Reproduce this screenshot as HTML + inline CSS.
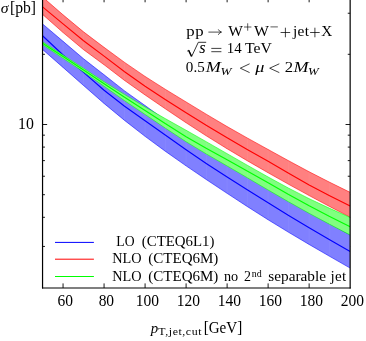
<!DOCTYPE html>
<html lang="en"><head><meta charset="utf-8"><title>plot</title>
<style>html,body{margin:0;padding:0;background:#fff;}body{width:366px;height:341px;overflow:hidden;}svg{display:block;}</style>
</head><body>
<svg width="366" height="341" viewBox="0 0 366 341">
<rect width="366" height="341" fill="#fff"/>
<defs><clipPath id="c"><rect x="42.55" y="-5" width="307.60" height="293.00"/></clipPath></defs>
<g stroke="#000" stroke-width="0.9" fill="none">
<line x1="63.06" y1="288.00" x2="63.06" y2="283.40"/>
<line x1="63.06" y1="-2.30" x2="63.06" y2="2.30"/>
<line x1="104.07" y1="288.00" x2="104.07" y2="283.40"/>
<line x1="104.07" y1="-2.30" x2="104.07" y2="2.30"/>
<line x1="145.08" y1="288.00" x2="145.08" y2="283.40"/>
<line x1="145.08" y1="-2.30" x2="145.08" y2="2.30"/>
<line x1="186.10" y1="288.00" x2="186.10" y2="283.40"/>
<line x1="186.10" y1="-2.30" x2="186.10" y2="2.30"/>
<line x1="227.11" y1="288.00" x2="227.11" y2="283.40"/>
<line x1="227.11" y1="-2.30" x2="227.11" y2="2.30"/>
<line x1="268.12" y1="288.00" x2="268.12" y2="283.40"/>
<line x1="268.12" y1="-2.30" x2="268.12" y2="2.30"/>
<line x1="309.14" y1="288.00" x2="309.14" y2="283.40"/>
<line x1="309.14" y1="-2.30" x2="309.14" y2="2.30"/>
<line x1="42.55" y1="246.44" x2="44.95" y2="246.44"/>
<line x1="350.15" y1="246.44" x2="347.75" y2="246.44"/>
<line x1="42.55" y1="217.30" x2="44.95" y2="217.30"/>
<line x1="350.15" y1="217.30" x2="347.75" y2="217.30"/>
<line x1="42.55" y1="194.70" x2="44.95" y2="194.70"/>
<line x1="350.15" y1="194.70" x2="347.75" y2="194.70"/>
<line x1="42.55" y1="176.24" x2="44.95" y2="176.24"/>
<line x1="350.15" y1="176.24" x2="347.75" y2="176.24"/>
<line x1="42.55" y1="160.62" x2="44.95" y2="160.62"/>
<line x1="350.15" y1="160.62" x2="347.75" y2="160.62"/>
<line x1="42.55" y1="147.10" x2="44.95" y2="147.10"/>
<line x1="350.15" y1="147.10" x2="347.75" y2="147.10"/>
<line x1="42.55" y1="135.17" x2="44.95" y2="135.17"/>
<line x1="350.15" y1="135.17" x2="347.75" y2="135.17"/>
<line x1="42.55" y1="124.50" x2="47.15" y2="124.50"/>
<line x1="350.15" y1="124.50" x2="345.55" y2="124.50"/>
<line x1="42.55" y1="54.30" x2="44.95" y2="54.30"/>
<line x1="350.15" y1="54.30" x2="347.75" y2="54.30"/>
<line x1="42.55" y1="13.24" x2="44.95" y2="13.24"/>
<line x1="350.15" y1="13.24" x2="347.75" y2="13.24"/>
</g>
<g clip-path="url(#c)">
<polygon points="42.55,23.91 63.06,41.33 83.56,58.75 104.07,74.75 124.58,90.88 145.08,105.56 165.59,120.30 186.10,135.07 206.60,149.22 227.11,162.70 247.62,175.62 268.12,188.07 288.63,200.15 309.14,211.95 329.64,223.56 350.15,235.08 350.15,268.09 329.64,256.34 309.14,244.47 288.63,232.32 268.12,219.78 247.62,206.75 227.11,193.37 206.60,179.78 186.10,165.87 165.59,151.46 145.08,136.37 124.58,120.43 104.07,103.46 83.56,85.51 63.06,67.44 42.55,49.49" fill="#8080ff"/>
<line x1="63.06" y1="41.33" x2="63.06" y2="67.44" stroke="#8c8cff" stroke-width="0.5"/><line x1="83.56" y1="58.75" x2="83.56" y2="85.51" stroke="#8c8cff" stroke-width="0.5"/><line x1="104.07" y1="74.75" x2="104.07" y2="103.46" stroke="#8c8cff" stroke-width="0.5"/><line x1="124.58" y1="90.88" x2="124.58" y2="120.43" stroke="#8c8cff" stroke-width="0.5"/><line x1="145.08" y1="105.56" x2="145.08" y2="136.37" stroke="#8c8cff" stroke-width="0.5"/><line x1="165.59" y1="120.30" x2="165.59" y2="151.46" stroke="#8c8cff" stroke-width="0.5"/><line x1="186.10" y1="135.07" x2="186.10" y2="165.87" stroke="#8c8cff" stroke-width="0.5"/><line x1="206.60" y1="149.22" x2="206.60" y2="179.78" stroke="#8c8cff" stroke-width="0.5"/><line x1="227.11" y1="162.70" x2="227.11" y2="193.37" stroke="#8c8cff" stroke-width="0.5"/><line x1="247.62" y1="175.62" x2="247.62" y2="206.75" stroke="#8c8cff" stroke-width="0.5"/><line x1="268.12" y1="188.07" x2="268.12" y2="219.78" stroke="#8c8cff" stroke-width="0.5"/><line x1="288.63" y1="200.15" x2="288.63" y2="232.32" stroke="#8c8cff" stroke-width="0.5"/><line x1="309.14" y1="211.95" x2="309.14" y2="244.47" stroke="#8c8cff" stroke-width="0.5"/><line x1="329.64" y1="223.56" x2="329.64" y2="256.34" stroke="#8c8cff" stroke-width="0.5"/>
<polyline points="42.55,23.91 63.06,41.33 83.56,58.75 104.07,74.75 124.58,90.88 145.08,105.56 165.59,120.30 186.10,135.07 206.60,149.22 227.11,162.70 247.62,175.62 268.12,188.07 288.63,200.15 309.14,211.95 329.64,223.56 350.15,235.08" fill="none" stroke="#0000ff" stroke-width="0.55"/>
<polyline points="42.55,49.49 63.06,67.44 83.56,85.51 104.07,103.46 124.58,120.43 145.08,136.37 165.59,151.46 186.10,165.87 206.60,179.78 227.11,193.37 247.62,206.75 268.12,219.78 288.63,232.32 309.14,244.47 329.64,256.34 350.15,268.09" fill="none" stroke="#0000ff" stroke-width="0.55"/>
<polyline points="42.55,35.72 63.06,55.04 83.56,72.33 104.07,90.26 124.58,106.23 145.08,120.76 165.59,135.32 186.10,149.77 206.60,163.69 227.11,177.07 247.62,190.04 268.12,202.78 288.63,215.42 309.14,227.78 329.64,239.71 350.15,251.39" fill="none" stroke="#0000ff" stroke-width="1.15"/>
<polygon points="42.55,-3.01 63.06,14.83 83.56,31.86 104.07,47.35 124.58,62.40 145.08,76.45 165.59,89.46 186.10,101.96 206.60,114.41 227.11,126.56 247.62,138.16 268.12,149.47 288.63,160.76 309.14,171.77 329.64,182.24 350.15,192.37 350.15,217.28 329.64,206.51 309.14,195.57 288.63,184.32 268.12,172.77 247.62,160.96 227.11,148.77 206.60,136.04 186.10,122.76 165.59,108.99 145.08,94.96 124.58,80.48 104.07,64.75 83.56,49.66 63.06,32.54 42.55,14.38" fill="#ff8080"/>
<line x1="63.06" y1="14.83" x2="63.06" y2="32.54" stroke="#ff8c8c" stroke-width="0.5"/><line x1="83.56" y1="31.86" x2="83.56" y2="49.66" stroke="#ff8c8c" stroke-width="0.5"/><line x1="104.07" y1="47.35" x2="104.07" y2="64.75" stroke="#ff8c8c" stroke-width="0.5"/><line x1="124.58" y1="62.40" x2="124.58" y2="80.48" stroke="#ff8c8c" stroke-width="0.5"/><line x1="145.08" y1="76.45" x2="145.08" y2="94.96" stroke="#ff8c8c" stroke-width="0.5"/><line x1="165.59" y1="89.46" x2="165.59" y2="108.99" stroke="#ff8c8c" stroke-width="0.5"/><line x1="186.10" y1="101.96" x2="186.10" y2="122.76" stroke="#ff8c8c" stroke-width="0.5"/><line x1="206.60" y1="114.41" x2="206.60" y2="136.04" stroke="#ff8c8c" stroke-width="0.5"/><line x1="227.11" y1="126.56" x2="227.11" y2="148.77" stroke="#ff8c8c" stroke-width="0.5"/><line x1="247.62" y1="138.16" x2="247.62" y2="160.96" stroke="#ff8c8c" stroke-width="0.5"/><line x1="268.12" y1="149.47" x2="268.12" y2="172.77" stroke="#ff8c8c" stroke-width="0.5"/><line x1="288.63" y1="160.76" x2="288.63" y2="184.32" stroke="#ff8c8c" stroke-width="0.5"/><line x1="309.14" y1="171.77" x2="309.14" y2="195.57" stroke="#ff8c8c" stroke-width="0.5"/><line x1="329.64" y1="182.24" x2="329.64" y2="206.51" stroke="#ff8c8c" stroke-width="0.5"/>
<polyline points="42.55,-3.01 63.06,14.83 83.56,31.86 104.07,47.35 124.58,62.40 145.08,76.45 165.59,89.46 186.10,101.96 206.60,114.41 227.11,126.56 247.62,138.16 268.12,149.47 288.63,160.76 309.14,171.77 329.64,182.24 350.15,192.37" fill="none" stroke="#ff0000" stroke-width="0.55"/>
<polyline points="42.55,14.38 63.06,32.54 83.56,49.66 104.07,64.75 124.58,80.48 145.08,94.96 165.59,108.99 186.10,122.76 206.60,136.04 227.11,148.77 247.62,160.96 268.12,172.77 288.63,184.32 309.14,195.57 329.64,206.51 350.15,217.28" fill="none" stroke="#ff0000" stroke-width="0.55"/>
<polyline points="42.55,6.92 63.06,23.93 83.56,40.76 104.07,56.15 124.58,71.69 145.08,86.16 165.59,99.71 186.10,112.76 206.60,125.53 227.11,137.86 247.62,149.67 268.12,161.37 288.63,173.32 309.14,184.97 329.64,195.79 350.15,206.07" fill="none" stroke="#ff0000" stroke-width="1.15"/>
<polygon points="42.55,41.85 63.06,55.10 83.56,68.31 104.07,81.74 124.58,94.44 145.08,106.95 165.59,118.78 186.10,130.25 206.60,141.89 227.11,153.66 247.62,165.41 268.12,176.97 288.63,188.16 309.14,198.67 329.64,208.32 350.15,217.47 350.15,234.98 329.64,224.34 309.14,213.37 288.63,201.87 268.12,189.97 247.62,177.93 227.11,165.96 206.60,154.13 186.10,141.76 165.59,128.31 145.08,114.46 124.58,100.71 104.07,86.25 83.56,71.90 63.06,58.30 42.55,44.74" fill="#80ff80"/>
<line x1="63.06" y1="55.10" x2="63.06" y2="58.30" stroke="#8cff8c" stroke-width="0.5"/><line x1="83.56" y1="68.31" x2="83.56" y2="71.90" stroke="#8cff8c" stroke-width="0.5"/><line x1="104.07" y1="81.74" x2="104.07" y2="86.25" stroke="#8cff8c" stroke-width="0.5"/><line x1="124.58" y1="94.44" x2="124.58" y2="100.71" stroke="#8cff8c" stroke-width="0.5"/><line x1="145.08" y1="106.95" x2="145.08" y2="114.46" stroke="#8cff8c" stroke-width="0.5"/><line x1="165.59" y1="118.78" x2="165.59" y2="128.31" stroke="#8cff8c" stroke-width="0.5"/><line x1="186.10" y1="130.25" x2="186.10" y2="141.76" stroke="#8cff8c" stroke-width="0.5"/><line x1="206.60" y1="141.89" x2="206.60" y2="154.13" stroke="#8cff8c" stroke-width="0.5"/><line x1="227.11" y1="153.66" x2="227.11" y2="165.96" stroke="#8cff8c" stroke-width="0.5"/><line x1="247.62" y1="165.41" x2="247.62" y2="177.93" stroke="#8cff8c" stroke-width="0.5"/><line x1="268.12" y1="176.97" x2="268.12" y2="189.97" stroke="#8cff8c" stroke-width="0.5"/><line x1="288.63" y1="188.16" x2="288.63" y2="201.87" stroke="#8cff8c" stroke-width="0.5"/><line x1="309.14" y1="198.67" x2="309.14" y2="213.37" stroke="#8cff8c" stroke-width="0.5"/><line x1="329.64" y1="208.32" x2="329.64" y2="224.34" stroke="#8cff8c" stroke-width="0.5"/>
<polyline points="42.55,41.85 63.06,55.10 83.56,68.31 104.07,81.74 124.58,94.44 145.08,106.95 165.59,118.78 186.10,130.25 206.60,141.89 227.11,153.66 247.62,165.41 268.12,176.97 288.63,188.16 309.14,198.67 329.64,208.32 350.15,217.47" fill="none" stroke="#00ff00" stroke-width="0.55"/>
<polyline points="42.55,44.74 63.06,58.30 83.56,71.90 104.07,86.25 124.58,100.71 145.08,114.46 165.59,128.31 186.10,141.76 206.60,154.13 227.11,165.96 247.62,177.93 268.12,189.97 288.63,201.87 309.14,213.37 329.64,224.34 350.15,234.98" fill="none" stroke="#00ff00" stroke-width="0.55"/>
<polyline points="42.55,43.24 63.06,56.60 83.56,69.91 104.07,83.75 124.58,97.20 145.08,110.45 165.59,123.85 186.10,136.76 206.60,148.58 227.11,159.86 247.62,171.27 268.12,182.87 288.63,194.49 309.14,205.77 329.64,216.42 350.15,226.67" fill="none" stroke="#00ff00" stroke-width="1.15"/>
</g>
<g stroke="#000" stroke-width="1.2" fill="none">
<line x1="42.55" y1="-5" x2="42.55" y2="288.60"/>
<line x1="350.15" y1="-5" x2="350.15" y2="288.60"/>
<line x1="41.95" y1="288.00" x2="350.75" y2="288.00"/>
</g>
<line x1="55.0" y1="242.4" x2="93.9" y2="242.4" stroke="#0000ff" stroke-width="1.0"/>
<line x1="55.0" y1="259.2" x2="93.9" y2="259.2" stroke="#ff0000" stroke-width="1.0"/>
<line x1="55.0" y1="276.5" x2="93.9" y2="276.5" stroke="#00ff00" stroke-width="1.0"/>
<g font-family="'Liberation Serif', serif" fill="#000" style="will-change:transform">
<text transform="translate(65.36,306.30) scale(1.0000,1.0300)" font-size="15.5" text-anchor="middle">60</text>
<text transform="translate(106.37,306.30) scale(1.0000,1.0300)" font-size="15.5" text-anchor="middle">80</text>
<text transform="translate(147.38,306.30) scale(1.0000,1.0300)" font-size="15.5" text-anchor="middle">100</text>
<text transform="translate(188.40,306.30) scale(1.0000,1.0300)" font-size="15.5" text-anchor="middle">120</text>
<text transform="translate(229.41,306.30) scale(1.0000,1.0300)" font-size="15.5" text-anchor="middle">140</text>
<text transform="translate(270.42,306.30) scale(1.0000,1.0300)" font-size="15.5" text-anchor="middle">160</text>
<text transform="translate(311.44,306.30) scale(1.0000,1.0300)" font-size="15.5" text-anchor="middle">180</text>
<text transform="translate(352.45,306.30) scale(1.0000,1.0300)" font-size="15.5" text-anchor="middle">200</text>
<path d="M208.4,32.10 h12.9 m-3.0,-2.7 q0.9,2.1 3.2,2.7 q-2.3,0.6 -3.2,2.7" stroke="#000" stroke-width="0.7" fill="none"/>
<path d="M244.00,27.00 h7.40 M247.70,23.30 v7.40" stroke="#000" stroke-width="0.65" fill="none"/>
<path d="M270.45,26.90 h7.40" stroke="#000" stroke-width="0.65" fill="none"/>
<path d="M280.60,32.50 h9.60 M285.40,27.70 v9.60" stroke="#000" stroke-width="0.75" fill="none"/>
<path d="M310.10,32.50 h9.60 M314.90,27.70 v9.60" stroke="#000" stroke-width="0.75" fill="none"/>
<path d="M187.2,51.2 l1.6,-1.0 l2.9,6.2 l6.6,-14.1 h7.9" stroke="#000" stroke-width="0.8" fill="none" stroke-linejoin="miter"/>
<path d="M188.6,50.4 l2.9,6.0" stroke="#000" stroke-width="1.3" fill="none"/>
<path d="M211.3,48.4 h10.1 M211.3,51.7 h10.1" stroke="#000" stroke-width="0.75" fill="none"/>
<path d="M249.6,63.8 l-9.3,4.4 l9.3,4.4" stroke="#000" stroke-width="0.75" fill="none"/>
<path d="M279.3,63.8 l-9.6,4.4 l9.6,4.4" stroke="#000" stroke-width="0.75" fill="none"/>
<text transform="translate(18.09,128.90) scale(1.0222,1.0300)" font-size="15.5">10</text>
<text transform="translate(0.77,12.50) scale(1.0576,1.0000)" font-size="15" font-style="italic">σ</text>
<text transform="translate(9.93,12.50) scale(1.0418,1.1000)" font-size="15">[pb]</text>
<text transform="translate(150.87,333.20) scale(0.9905,1.0000)" font-size="15" font-style="italic">p</text>
<text transform="translate(158.32,335.40) scale(1.1300,1.0000)" font-size="10.5" letter-spacing="0.5">T,jet,cut</text>
<text transform="translate(203.67,333.20) scale(1.0076,1.0800)" font-size="15">[GeV]</text>
<text transform="translate(186.22,36.10) scale(1.1186,1.0000)" font-size="15" letter-spacing="0.6">pp</text>
<text transform="translate(228.20,36.10) scale(1.0336,1.0400)" font-size="15">W</text>
<text transform="translate(254.10,36.10) scale(1.0549,1.0400)" font-size="15">W</text>
<text transform="translate(292.99,36.10) scale(1.0268,1.0000)" font-size="15" letter-spacing="0.3">jet</text>
<text transform="translate(321.22,36.10) scale(1.0173,1.0400)" font-size="15">X</text>
<text transform="translate(199.33,53.30) scale(1.0927,1.0800)" font-size="15" font-style="italic">s</text>
<text transform="translate(226.73,53.20) scale(0.9944,1.0300)" font-size="15">14</text>
<text transform="translate(245.04,53.20) scale(1.0455,1.0400)" font-size="15">TeV</text>
<text transform="translate(185.87,71.60) scale(1.0057,1.0300)" font-size="15">0.5</text>
<text transform="translate(205.85,71.60) scale(1.2075,1.0400)" font-size="15" font-style="italic">M</text>
<text transform="translate(220.60,75.10) scale(1.2000,1.0000)" font-size="11" font-style="italic">W</text>
<text transform="translate(255.30,71.60) scale(1.2143,1.0000)" font-size="15" font-style="italic">μ</text>
<text transform="translate(284.80,71.60) scale(1.1167,1.0300)" font-size="15">2</text>
<text transform="translate(293.45,71.60) scale(1.2075,1.0400)" font-size="15" font-style="italic">M</text>
<text transform="translate(308.12,75.10) scale(1.1676,1.0000)" font-size="11" font-style="italic">W</text>
<text transform="translate(116.36,246.30) scale(0.9105,1.0000)" font-size="15">LO</text>
<text transform="translate(141.78,246.30) scale(0.9917,1.0000)" font-size="15">(CTEQ6L1)</text>
<text transform="translate(112.24,263.00) scale(0.9540,1.0000)" font-size="15">NLO</text>
<text transform="translate(148.27,263.00) scale(1.0022,1.0000)" font-size="15">(CTEQ6M)</text>
<text transform="translate(112.24,280.60) scale(0.9540,1.0000)" font-size="15">NLO</text>
<text transform="translate(148.27,280.60) scale(1.0022,1.0000)" font-size="15">(CTEQ6M)</text>
<text transform="translate(223.94,280.60) scale(0.9500,1.0000)" font-size="15">no</text>
<text transform="translate(243.92,280.60) scale(0.9333,1.0000)" font-size="15">2</text>
<text transform="translate(251.65,276.60) scale(0.9974,1.0000)" font-size="10">nd</text>
<text transform="translate(268.36,280.60) scale(1.0198,1.0000)" font-size="15">separable</text>
<text transform="translate(330.48,280.60) scale(1.0079,1.0000)" font-size="15" letter-spacing="0.3">jet</text>
</g>
</svg>
</body></html>
